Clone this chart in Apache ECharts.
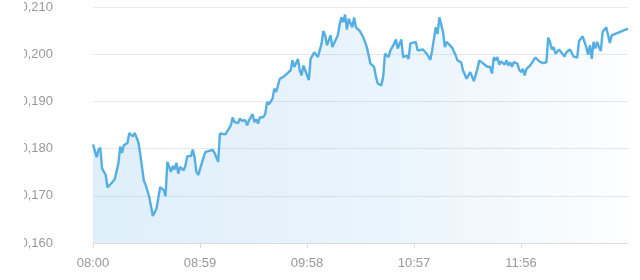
<!DOCTYPE html>
<html>
<head>
<meta charset="utf-8">
<script src="https://cdn.jsdelivr.net/npm/echarts@6/dist/echarts.min.js"></script>
<style>html,body{margin:0;padding:0;background:#fff;}#chart{width:640px;height:280px;}</style>
</head>
<body>
<div id="chart"></div>
<script>
// minutes elapsed since 08:00
const minuteOffsets = [0,2,3,4,5,6,7,8,10,12,13,14,15,16,17,19,20,21,22,23,25,26,28,29,31,33,34,35,36,37,39,40,41,42,43,44,45,46,47,48,50,51,52,54,55,56,57,58,59,61,62,64,66,67,69,70,71,73,74,76,77,78,80,81,82,84,85,86,88,89,90,91,92,94,95,96,97,99,100,101,103,105,107,109,110,111,113,114,115,116,117,119,120,121,122,124,125,126,127,128,129,131,132,133,135,136,137,138,139,140,141,143,144,145,147,149,151,153,155,156,157,159,160,161,163,164,166,167,168,170,171,173,174,175,178,179,180,182,184,186,187,189,190,191,192,193,194,195,196,198,199,200,201,203,204,206,207,208,210,212,213,215,217,219,220,221,222,223,224,225,227,228,229,230,231,232,234,235,236,237,238,239,241,243,244,246,248,250,251,252,253,254,255,257,258,260,261,263,264,265,267,268,270,271,272,273,274,275,276,277,278,279,280,281,283,284,285,286,295];
const prices = [0.1809,0.1782,0.1797,0.1802,0.1758,0.1760,0.1744,0.1718,0.1726,0.1735,0.1732,0.1769,0.1804,0.1791,0.1807,0.1812,0.1833,0.1835,0.1826,0.1833,0.1814,0.1790,0.1733,0.1723,0.1698,0.1657,0.1657,0.1673,0.1695,0.1718,0.1712,0.1699,0.1772,0.1774,0.1751,0.1763,0.1756,0.1770,0.1747,0.1761,0.1754,0.1765,0.1784,0.1784,0.1798,0.1782,0.1751,0.1744,0.1742,0.1782,0.1793,0.1795,0.1797,0.1791,0.1772,0.1832,0.1830,0.1830,0.1833,0.1849,0.1866,0.1856,0.1854,0.1864,0.1859,0.1860,0.1849,0.1860,0.1873,0.1856,0.1862,0.1853,0.1866,0.1867,0.1874,0.1899,0.1894,0.1906,0.1927,0.1920,0.1948,0.1952,0.1959,0.1966,0.1987,0.1973,0.1990,0.1966,0.1955,0.1976,0.1966,0.1945,0.1990,0.1987,0.2004,0.1994,0.2008,0.2022,0.2049,0.2040,0.2019,0.2040,0.2015,0.2012,0.2040,0.2063,0.2078,0.2068,0.2084,0.2052,0.2075,0.2057,0.2078,0.2057,0.2050,0.2036,0.2015,0.1980,0.1973,0.1952,0.1938,0.1934,0.1952,0.2001,0.1994,0.2008,0.2022,0.2031,0.2012,0.2031,0.1994,0.1997,0.1990,0.2023,0.2026,0.2008,0.2004,0.2010,0.2001,0.1988,0.2008,0.2057,0.2043,0.2078,0.2080,0.2047,0.2015,0.2026,0.2026,0.2014,0.2015,0.1997,0.1987,0.1983,0.1966,0.1948,0.1955,0.1962,0.1943,0.1969,0.1987,0.1981,0.1974,0.1973,0.1959,0.1994,0.1987,0.1994,0.1978,0.1985,0.1978,0.1987,0.1976,0.1983,0.1973,0.1983,0.1980,0.1967,0.1962,0.1969,0.1955,0.1969,0.1976,0.1988,0.1993,0.1985,0.1981,0.1983,0.2035,0.2026,0.2010,0.2015,0.2001,0.2010,0.2008,0.1995,0.2004,0.2010,0.2014,0.1995,0.1993,0.2028,0.2038,0.2035,0.2015,0.1999,0.2019,0.1990,0.2026,0.2012,0.2026,0.2015,0.2007,0.2047,0.2057,0.2061,0.2024,0.2040,0.2054];
const tickLabels = ['08:00','08:59','09:58','10:57','11:56'];
const tickStep = 59;
const sessionLength = 295;
const yMin = 0.16, yMax = 0.21, yStep = 0.01;

const seriesData = minuteOffsets.map((m, i) => [m, prices[i]]);
const font = "'Liberation Sans', Arial, sans-serif";

const chart = echarts.init(document.getElementById('chart'), null, {renderer: 'canvas'});
chart.setOption({
  animation: false,
  backgroundColor: '#ffffff',
  grid: {left: 93, right: 12, top: 7, bottom: 37, containLabel: false},
  xAxis: {
    type: 'value', min: 0, max: sessionLength, interval: tickStep,
    axisLine: {show: true, lineStyle: {color: '#dcdcdc', width: 1}},
    axisTick: {show: true, length: 5, lineStyle: {color: '#dcdcdc'}},
    splitLine: {show: false},
    axisLabel: {
      color: '#999999', fontSize: 13, fontFamily: font, margin: 14,
      showMaxLabel: false,
      formatter: v => { const k = Math.round(v / tickStep); return tickLabels[k] || ''; }
    }
  },
  yAxis: {
    type: 'value', min: yMin, max: yMax, interval: yStep,
    axisLine: {show: false}, axisTick: {show: false},
    splitLine: {show: true, lineStyle: {color: '#e8e8e8', width: 1}},
    axisLabel: {
      color: '#999999', fontSize: 13, fontFamily: font, margin: 40,
      formatter: v => v.toFixed(3).replace('.', ',')
    }
  },
  series: [{
    type: 'line', data: seriesData, showSymbol: false, smooth: false,
    lineStyle: {color: '#55aee4', width: 2.4},
    areaStyle: {
      origin: 'start',
      color: new echarts.graphic.LinearGradient(0, 0, 1, 0, [
        {offset: 0, color: 'rgba(84,170,230,0.27)'},
        {offset: 0.6, color: 'rgba(84,170,230,0.17)'},
        {offset: 1, color: 'rgba(84,170,230,0.02)'}
      ])
    }
  }],
  graphic: [{
    type: 'rect', left: 0, top: 0, z: 100, silent: true,
    shape: {width: 24, height: 250}, style: {fill: '#ffffff'}
  }]
});
</script>
</body>
</html>
